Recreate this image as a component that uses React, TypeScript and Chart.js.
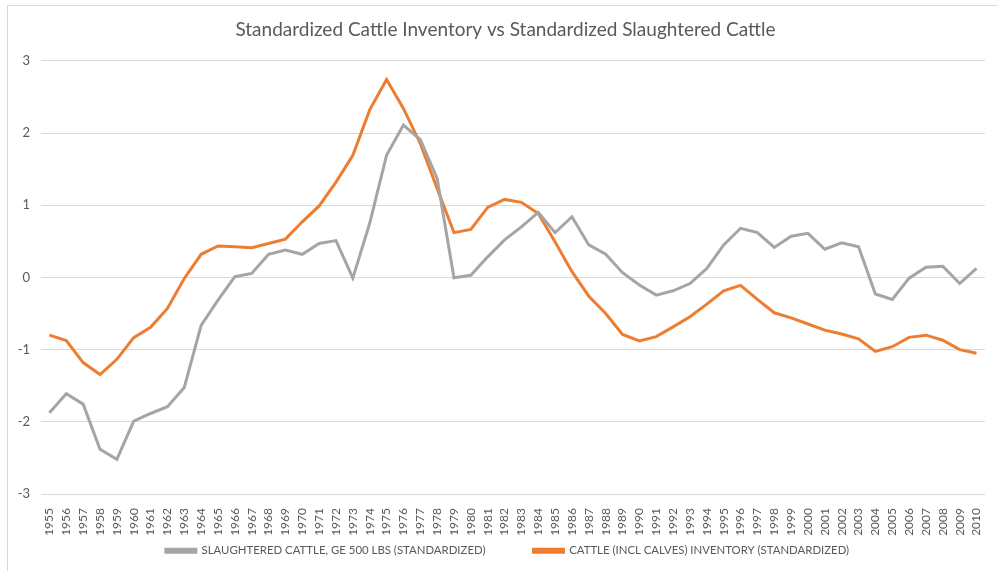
import React, { useEffect, useRef } from "react";
import { Chart, registerables } from "chart.js";

Chart.register(...registerables);

const years: string[] = [
  "1955","1956","1957","1958","1959","1960","1961","1962","1963","1964",
  "1965","1966","1967","1968","1969","1970","1971","1972","1973","1974",
  "1975","1976","1977","1978","1979","1980","1981","1982","1983","1984",
  "1985","1986","1987","1988","1989","1990","1991","1992","1993","1994",
  "1995","1996","1997","1998","1999","2000","2001","2002","2003","2004",
  "2005","2006","2007","2008","2009","2010",
];

const slaughtered: number[] = [
  -1.875, -1.61, -1.755, -2.38, -2.52, -1.99, -1.885, -1.79, -1.525, -0.665,
  -0.315, 0.01, 0.055, 0.32, 0.38, 0.32, 0.47, 0.51, -0.01, 0.75,
  1.69, 2.11, 1.91, 1.37, -0.005, 0.03, 0.285, 0.52, 0.7, 0.9,
  0.62, 0.84, 0.45, 0.32, 0.065, -0.105, -0.245, -0.185, -0.085, 0.125,
  0.45, 0.68, 0.62, 0.415, 0.57, 0.61, 0.39, 0.48, 0.425, -0.23,
  -0.305, -0.01, 0.14, 0.155, -0.085, 0.125,
];

const inventory: number[] = [
  -0.8, -0.875, -1.18, -1.345, -1.135, -0.835, -0.69, -0.43, -0.015, 0.32,
  0.435, 0.425, 0.41, 0.47, 0.53, 0.77, 0.99, 1.32, 1.69, 2.32,
  2.74, 2.34, 1.855, 1.23, 0.62, 0.665, 0.97, 1.08, 1.04, 0.885,
  0.49, 0.08, -0.26, -0.5, -0.79, -0.88, -0.82, -0.685, -0.545, -0.37,
  -0.185, -0.11, -0.305, -0.49, -0.56, -0.645, -0.73, -0.785, -0.85, -1.025,
  -0.96, -0.83, -0.8, -0.87, -1.0, -1.05,
];

const seriesNames: string[] = [
  "SLAUGHTERED CATTLE, GE 500 LBS (STANDARDIZED)",
  "CATTLE (INCL CALVES) INVENTORY (STANDARDIZED)",
];

const titleText = "Standardized Cattle Inventory vs Standardized Slaughtered Cattle";

const FONT = "Lato, 'Noto Sans', 'DejaVu Sans', sans-serif";

const X_AXIS_H = 42;
const LEGEND_H = 35;
const LEGEND_PAD = 48;
const LEGEND_TEXT_TOP = 545;

const tweakPlugin = {
  id: "tweak",
  beforeLayout(chart: any) {
    const lg = chart.legend;
    if (lg && !lg.__patched) {
      const orig = lg.fit;
      lg.fit = function () {
        orig.call(this);
        this.height = LEGEND_H;
      };
      lg.__patched = true;
    }
  },
  afterLayout(chart: any) {
    const t = chart.titleBlock;
    if (t) {
      t.left += 7;
      t.right += 7;
    }
    const lg = chart.legend;
    if (lg) {
      lg.left += 9;
      lg.right += 9;
      lg.top = LEGEND_TEXT_TOP - LEGEND_PAD;
      lg.bottom = chart.height;
      lg.height = lg.bottom - lg.top;
    }
  },
};

export default function App() {
  const ref = useRef<HTMLCanvasElement | null>(null);

  useEffect(() => {
    document.body.style.margin = "0";
    const canvas = ref.current;
    if (!canvas) return;
    const chart = new Chart(canvas, {
      type: "line",
      data: {
        labels: years,
        datasets: [
          {
            label: seriesNames[0],
            data: slaughtered,
            borderColor: "#a5a5a5",
            backgroundColor: "#a5a5a5",
            borderWidth: 3,
            pointRadius: 0,
            tension: 0,
          },
          {
            label: seriesNames[1],
            data: inventory,
            borderColor: "#ed7d31",
            backgroundColor: "#ed7d31",
            borderWidth: 3,
            pointRadius: 0,
            tension: 0,
          },
        ],
      },
      plugins: [tweakPlugin],
      options: {
        responsive: false,
        animation: false,
        layout: { padding: { left: 8, right: 8, top: 14, bottom: 0 } },
        plugins: {
          title: {
            display: true,
            text: titleText,
            color: "#595959",
            font: { family: FONT, size: 19, weight: "normal" },
            padding: { top: 4, bottom: 20 },
          },
          legend: {
            position: "bottom",
            labels: {
              color: "#595959",
              font: { family: FONT, size: 11.4 },
              boxWidth: 30,
              boxHeight: 3,
              padding: LEGEND_PAD,
            },
          },
          tooltip: { enabled: false },
        },
        scales: {
          x: {
            offset: true,
            grid: { display: false },
            border: { display: false },
            ticks: {
              color: "#595959",
              font: { family: FONT, size: 12 },
              minRotation: 90,
              maxRotation: 90,
              autoSkip: false,
              padding: 6,
            },
            afterFit: (s: any) => {
              s.height = X_AXIS_H;
            },
          },
          y: {
            min: -3,
            max: 3,
            grid: { color: "#d9d9d9", lineWidth: 1, drawTicks: false },
            border: { display: false },
            ticks: {
              stepSize: 1,
              color: "#595959",
              font: { family: FONT, size: 13 },
              padding: 11,
            },
            afterFit: (s: any) => {
              s.width = 33;
            },
          },
        },
      },
    });
    return () => chart.destroy();
  }, []);

  return (
    <div style={{ position: "relative", width: 997, height: 571, overflow: "hidden", background: "#fff" }}>
      <div
        style={{
          position: "absolute",
          left: 7,
          top: 5,
          width: 1200,
          height: 1000,
          borderLeft: "1px solid #d9d9d9",
          borderTop: "1px solid #d9d9d9",
        }}
      />
      <canvas ref={ref} width={997} height={571} style={{ position: "absolute", left: 0, top: 0 }} />
    </div>
  );
}
